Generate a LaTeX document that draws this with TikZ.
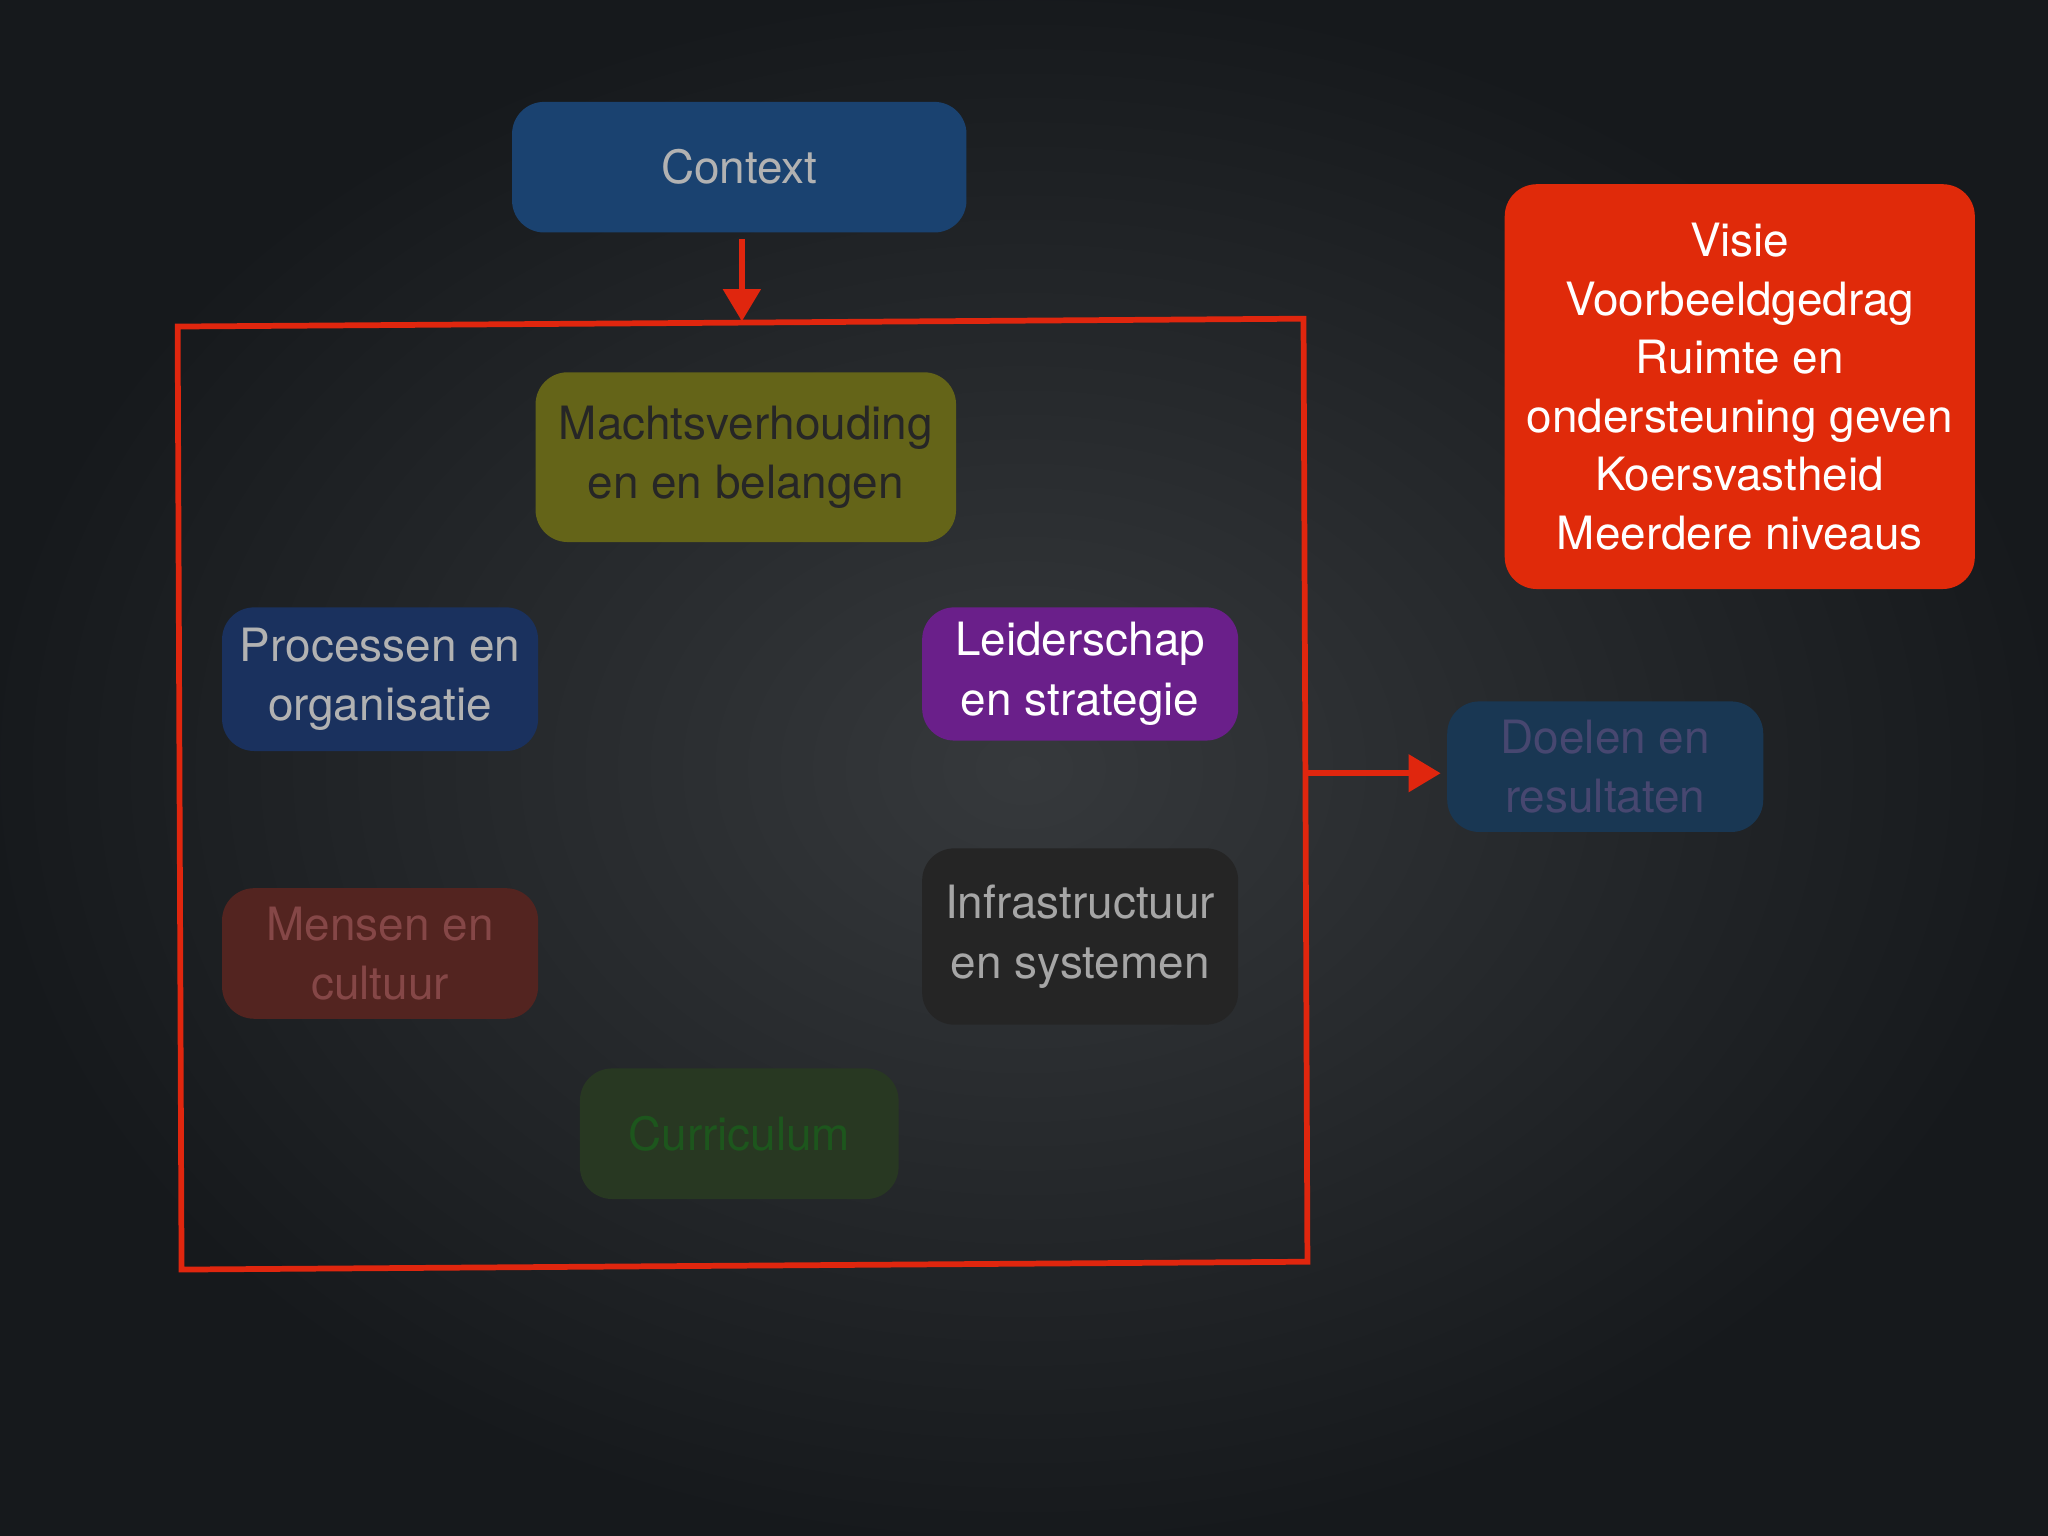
\documentclass[tikz,border=0pt]{standalone}
\usepackage{fontspec}
\setmainfont{TeX Gyre Heros}
\usetikzlibrary{arrows.meta}
\definecolor{bgc}{HTML}{1E2226}
\definecolor{bgl}{HTML}{36393C}
\definecolor{redl}{HTML}{E0260E}
\definecolor{cctx}{HTML}{1A4270}
\definecolor{cmacht}{HTML}{646418}
\definecolor{cproc}{HTML}{1A315E}
\definecolor{cleid}{HTML}{6A1F8A}
\definecolor{cmens}{HTML}{532420}
\definecolor{cinfra}{HTML}{252525}
\definecolor{ccurr}{HTML}{283822}
\definecolor{cdoel}{HTML}{193753}
\definecolor{cvisie}{HTML}{E02A0A}
\tikzset{
 box/.style={rounded corners=14pt, align=center, font=\fontsize{20}{26}\selectfont, inner sep=0pt},
 conn/.style={draw=redl, line width=2.5pt, -{Triangle[length=14pt,width=16pt]}}
}
\begin{document}
\begin{tikzpicture}[x=0.02cm,y=-0.02cm]
\useasboundingbox (0,0) rectangle (1568,1176);
\shade[inner color=bgl, outer color=bgc!75!black] (0,0) rectangle (1568,1176);
\node[box, fill=cctx, minimum width=6.96cm, minimum height=2cm, text=gray!60] (ctx) at (566,128) {Context};
\draw[redl, line width=2.5pt] (136,250) -- (998,244) -- (1001,966) -- (139,972) -- cycle;
\coordinate (ctop) at (568,183);
\coordinate (ftop) at (568,246);
\coordinate (fright) at (1000,592);
\coordinate (dleft) at (1103,592);
\node[box, fill=cmacht, minimum width=6.44cm, minimum height=2.6cm, text=black!85] (macht) at (571,350) {Machtsverhouding\\en en belangen};
\node[box, fill=cproc, minimum width=4.84cm, minimum height=2.2cm, text=gray!60] (proc) at (291,520) {Processen en\\organisatie};
\node[box, fill=cleid, minimum width=4.84cm, minimum height=2.04cm, text=white] (leid) at (827,516) {Leiderschap\\en strategie};
\node[box, fill=cmens, minimum width=4.84cm, minimum height=2cm, text=gray!70!red!80!black] (mens) at (291,730) {Mensen en\\cultuur};
\node[box, fill=cinfra, minimum width=4.84cm, minimum height=2.7cm, text=gray!70] (infra) at (827,717) {Infrastructuur\\en systemen};
\node[box, fill=ccurr, minimum width=4.88cm, minimum height=2cm, text=gray!50!green!45!black] (curr) at (566,868) {Curriculum};
\node[box, fill=cdoel, minimum width=4.84cm, minimum height=2cm, text=gray!50!blue!40!black!80] (doel) at (1229,587) {Doelen en\\resultaten};
\node[box, fill=cvisie, minimum width=7.2cm, minimum height=6.2cm, text=white, font=\fontsize{20}{25.5}\selectfont] (visie) at (1332,296) {Visie\\Voorbeeldgedrag\\Ruimte en\\ondersteuning geven\\Koersvastheid\\Meerdere niveaus};
\draw[conn] (ctop) -- (ftop);
\draw[conn] (fright) -- (dleft);
\end{tikzpicture}
\end{document}
